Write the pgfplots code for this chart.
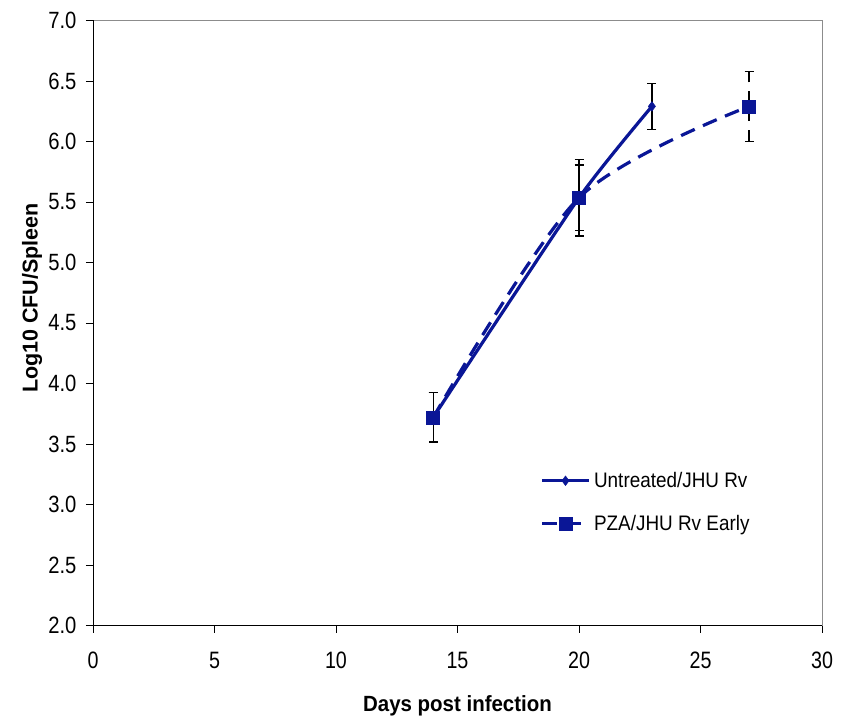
\documentclass[border=0pt]{standalone}
\usepackage{fontspec}
\setmainfont{Liberation Sans}
\newfontfamily\ytfont[FakeStretch=0.86]{Liberation Sans}
\newfontfamily\xtfont[FakeStretch=0.83]{Liberation Sans}
\newfontfamily\lgfont[FakeStretch=0.9]{Liberation Sans}
\newfontfamily\xlfont[FakeStretch=0.93]{Liberation Sans}
\usepackage{pgfplots}
\pgfplotsset{compat=1.18}
\definecolor{navyb}{RGB}{10,22,150}
\begin{document}
\begin{tikzpicture}
\begin{axis}[
  scale only axis, width=729pt, height=605pt,
  xmin=0, xmax=30, ymin=2, ymax=7,
  xtick={0,5,...,30}, ytick={2,2.5,...,7},
  xtick pos=bottom, ytick pos=left,
  tick align=outside, major tick length=7pt,
  tick style={black, line width=0.8pt},
  axis line style={black!45, line width=0.9pt},
  /pgf/number format/assume math mode=true,
  yticklabel style={font=\ytfont\fontsize{23.5}{25}\selectfont, xshift=-6pt,
    /pgf/number format/.cd, fixed, fixed zerofill, precision=1},
  xticklabel style={font=\xtfont\fontsize{23.7}{26}\selectfont, yshift=-16pt},
  xlabel={\textbf{Days post infection}},
  ylabel={\textbf{Log10 CFU/Spleen}},
  xlabel style={font=\xlfont\fontsize{22}{24}\selectfont, at={(axis description cs:0.5,0)}, anchor=center, yshift=-80pt},
  ylabel style={font=\fontsize{21.5}{24}\selectfont, at={(axis description cs:0,0.5)}, anchor=center, rotate=0, yshift=61pt, xshift=25pt},
  legend style={at={(axis cs:18.3,3.30)}, anchor=north west, draw=none, fill=none,
    font=\lgfont\fontsize{21}{23}\selectfont, row sep=22pt, column sep=2pt,
    /tikz/every even column/.append style={column sep=0pt}},
  legend cell align=left,
  legend image code/.code={
    \draw[#1, line width=3.2pt, mark repeat=2, mark phase=2] plot coordinates {(0pt,0pt) (23pt,0pt) (46pt,0pt)};
  },
  error bars/error bar style={black, line width=1.4pt},
  error bars/error mark options={rotate=90, mark size=4.5pt, line width=1.4pt, black},
]
\draw[black, line width=0.9pt] (rel axis cs:0,1) -- (rel axis cs:0,0) -- (rel axis cs:1,0);
\addplot+[navyb, line width=3.2pt, smooth, tension=0.35, mark=diamond*,
  mark size=4.8pt, mark options={fill=navyb, draw=navyb, solid, line width=0.5pt},
  error bars/.cd, y dir=both, y explicit]
  coordinates {
    (14,3.72) +- (0,0.205)
    (20,5.535) +- (0,0.27)
    (23,6.29) +- (0,0.19)
  };
\addlegendentry{Untreated/JHU Rv}
\addplot+[navyb, line width=3.2pt, dash pattern=on 15pt off 9pt, smooth, tension=0.5, mark=square*,
  mark size=6.5pt, mark options={fill=navyb, draw=navyb, solid, line width=0.5pt},
  error bars/.cd, y dir=both, y explicit]
  coordinates {
    (14,3.72) +- (0,0.205)
    (20,5.535) +- (0,0.315)
    (27,6.29) +- (0,0.29)
  };
\addlegendentry{PZA/JHU Rv Early}
\end{axis}
\pgfresetboundingbox
\path (-93pt,-94.5pt) rectangle (755pt,625.5pt);
\end{tikzpicture}
\end{document}
